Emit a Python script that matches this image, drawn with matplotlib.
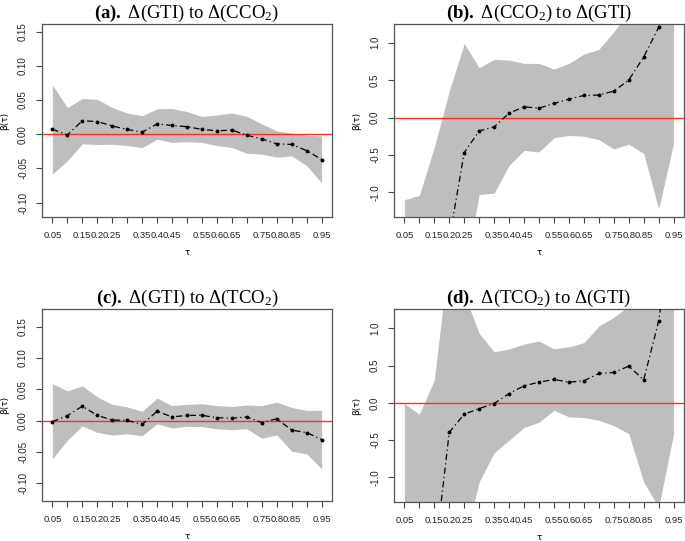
import numpy as np
import matplotlib
matplotlib.use("Agg")
import matplotlib.pyplot as plt

plt.rcParams['axes.unicode_minus'] = False
plt.rcParams['mathtext.fontset'] = 'custom'
plt.rcParams['mathtext.rm'] = 'Liberation Serif'
plt.rcParams['mathtext.bf'] = 'Liberation Serif:bold'
plt.rcParams['mathtext.it'] = 'Liberation Serif:italic'

tau = [0.05, 0.10, 0.15, 0.20, 0.25, 0.30, 0.35, 0.40, 0.45, 0.50,
       0.55, 0.60, 0.65, 0.70, 0.75, 0.80, 0.85, 0.90, 0.95]
tick_labels = ["0.05", "", "0.15", "0.2", "0.25", "", "0.35", "0.4", "0.45", "",
               "0.55", "0.6", "0.65", "", "0.75", "0.8", "0.85", "", "0.95"]

titles = [r"$\mathbf{(a).}$ Δ(GTI) to Δ(CCO$_2$)",
          r"$\mathbf{(b).}$ Δ(CCO$_2$) to Δ(GTI)",
          r"$\mathbf{(c).}$ Δ(GTI) to Δ(TCO$_2$)",
          r"$\mathbf{(d).}$ Δ(TCO$_2$) to Δ(GTI)"]

# (a)
coef_a = [0.0073, -0.001, 0.0195, 0.0185, 0.012, 0.007, 0.003, 0.015, 0.0127, 0.011,
          0.007, 0.005, 0.006, -0.0015, -0.007, -0.014, -0.015, -0.024, -0.037]
up_a = [0.072, 0.039, 0.052, 0.051, 0.039, 0.031, 0.027, 0.037, 0.0375, 0.033,
        0.026, 0.028, 0.031, 0.026, 0.015, 0.005, 0.0015, -0.0015, -0.0025]
lo_a = [-0.058, -0.039, -0.014, -0.015, -0.0146, -0.0166, -0.0195, -0.0073, -0.012, -0.011,
        -0.012, -0.0166, -0.0195, -0.028, -0.029, -0.0336, -0.0317, -0.046, -0.071]

# (b)
coef_b = [-2.5, -2.2, -1.9, -1.63, -0.47, -0.18, -0.125, 0.058, 0.143, 0.125,
          0.1875, 0.245, 0.295, 0.30, 0.353, 0.50, 0.81, 1.205, 1.8]
up_b = [-1.10, -1.04, -0.40, 0.35, 0.99, 0.665, 0.777, 0.768, 0.723, 0.723,
        0.647, 0.723, 0.848, 0.91, 1.147, 1.4, 1.6, 1.8, 2.0]
lo_b = [-3.0, -2.8, -2.6, -2.4, -2.1, -1.03, -1.01, -0.64, -0.44, -0.46,
        -0.27, -0.24, -0.25, -0.295, -0.42, -0.357, -0.48, -1.22, -0.34]

# (c)
coef_c = [-0.0016, 0.008, 0.023, 0.0085, 0.001, 0.0005, -0.006, 0.015, 0.006, 0.0085,
          0.0085, 0.0048, 0.0037, 0.006, -0.003, 0.003, -0.015, -0.019, -0.030]
up_c = [0.059, 0.0475, 0.0555, 0.038, 0.026, 0.022, 0.015, 0.036, 0.024, 0.026,
        0.027, 0.024, 0.0227, 0.025, 0.024, 0.0296, 0.021, 0.0164, 0.0164]
lo_c = [-0.061, -0.031, -0.0085, -0.0185, -0.023, -0.021, -0.024, -0.005, -0.0116, -0.009,
        -0.0095, -0.013, -0.0143, -0.013, -0.028, -0.0227, -0.0486, -0.053, -0.0766]

# (d)
coef_d = [-3.0, -2.5, -2.13, -0.395, -0.152, -0.076, -0.009, 0.126, 0.229, 0.278,
          0.314, 0.278, 0.296, 0.395, 0.408, 0.493, 0.309, 1.099, 2.5]
up_d = [-0.009, -0.152, 0.305, 2.0, 1.46, 0.933, 0.686, 0.722, 0.789, 0.83,
        0.726, 0.753, 0.807, 1.031, 1.148, 1.3, 1.6, 1.8, 2.0]
lo_d = [-3.0, -3.0, -3.0, -3.0, -1.89, -1.06, -0.67, -0.50, -0.33, -0.26,
        -0.099, -0.188, -0.197, -0.233, -0.305, -0.413, -1.063, -1.40, -0.413]

panels = [
    (coef_a, up_a, lo_a, (-0.121, 0.161), [-0.10, -0.05, 0.0, 0.05, 0.10, 0.15],
     ["-0.10", "-0.05", "0.00", "0.05", "0.10", "0.15"]),
    (coef_b, up_b, lo_b, (-1.33, 1.25), [-1.0, -0.5, 0.0, 0.5, 1.0],
     ["-1.0", "-0.5", "0.0", "0.5", "1.0"]),
    (coef_c, up_c, lo_c, (-0.128, 0.178), [-0.10, -0.05, 0.0, 0.05, 0.10, 0.15],
     ["-0.10", "-0.05", "0.00", "0.05", "0.10", "0.15"]),
    (coef_d, up_d, lo_d, (-1.33, 1.26), [-1.0, -0.5, 0.0, 0.5, 1.0],
     ["-1.0", "-0.5", "0.0", "0.5", "1.0"]),
]

W, H = 685, 541
fig = plt.figure(figsize=(W / 100, H / 100), dpi=100)
# axes boxes in pixel coords: left, top, right, bottom
boxes = [(42, 24, 332, 217), (394, 24, 684, 217), (42, 309, 332, 501), (394, 309, 684, 502)]

for i, ((coef, up, lo, ylim, yt, ytl), box) in enumerate(zip(panels, boxes)):
    l, t, r, b = box
    w, h = r - l, b - t
    ax = fig.add_axes([l / W, 1 - b / H, w / W, h / H])
    ax.fill_between(tau, lo, up, color='#bebebe', linewidth=0, zorder=1)
    ax.axhline(0, color='#ff2a2a', lw=1.0, zorder=2)
    ax.plot(tau, coef, color='black', lw=0.9, linestyle=(0, (5, 2.5, 1, 2.5)),
            marker='o', markersize=1.8, zorder=3)
    ax.set_xlim(0.05 - 0.0385 * 0.9, 0.95 + 0.0385 * 0.9)
    ax.set_ylim(*ylim)
    ax.set_xticks(tau)
    ax.set_xticklabels(tick_labels, fontsize=6.8, family='Liberation Sans', color='#222222')
    ax.set_yticks(yt)
    ax.set_yticklabels(ytl, fontsize=7.0, family='Liberation Sans', rotation=90,
                       va='center', color='#222222')
    ax.tick_params(axis='x', direction='out', length=4, width=0.8, color='#444444', pad=6)
    ax.tick_params(axis='y', direction='out', length=4, width=0.8, color='#444444', pad=6)
    for s in ax.spines.values():
        s.set_color('#555555')
        s.set_linewidth(0.9)
    ax.set_xlabel("τ", fontsize=6.5, family='DejaVu Sans')
    ax.xaxis.set_label_coords(0.5, -31 / h)
    ax.set_ylabel("β(τ)", fontsize=6.5, family='DejaVu Sans')
    ax.yaxis.set_label_coords(-33 / w, 0.5)
    ax.set_title(titles[i], fontsize=13.5, family='Liberation Serif', pad=4)

fig.savefig("out.png", dpi=100)
